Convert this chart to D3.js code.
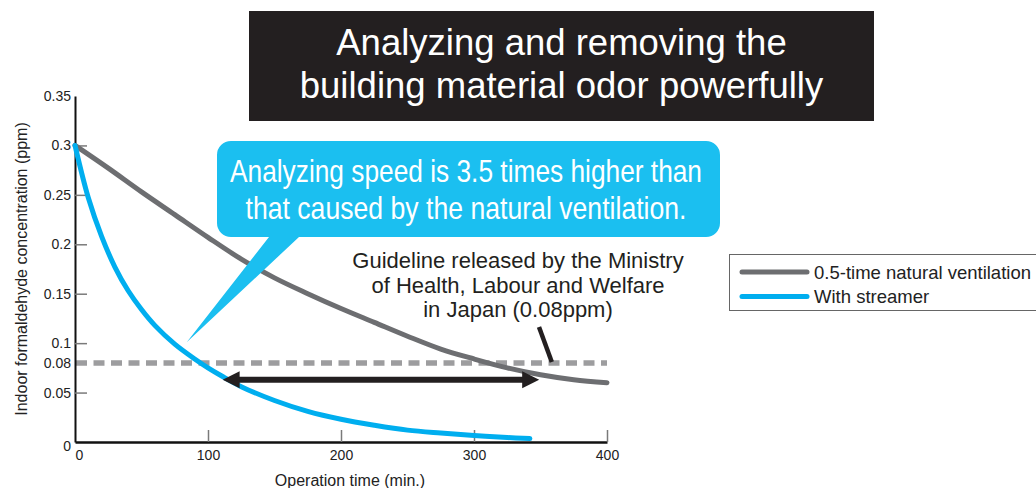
<!DOCTYPE html>
<html>
<head>
<meta charset="utf-8">
<script src="https://cdn.jsdelivr.net/npm/d3@7"></script>
<style>
  body { margin: 0; background: #fff; }
  svg { display: block; font-family: "Liberation Sans", Arial, Helvetica, sans-serif; }
</style>
</head>
<body>
<svg id="chart" width="1036" height="488"></svg>
<script>
// Formaldehyde concentration over operation time (ppm vs. minutes)
const ventTime    = [0, 25, 50, 75, 100, 125, 150, 175, 200, 225, 250, 275, 300, 325, 350, 375, 400];
const ventValues  = [0.300, 0.277, 0.253, 0.230, 0.207, 0.185, 0.166, 0.150, 0.135, 0.121, 0.107, 0.094, 0.084, 0.075, 0.068, 0.063, 0.060];

const streamerTime   = [0, 10, 20, 30, 40, 50, 60, 75, 90, 100, 110, 125, 150, 175, 200, 225, 250, 275, 300, 325, 342];
const streamerValues = [0.300, 0.247, 0.208, 0.177, 0.153, 0.134, 0.118, 0.099, 0.084, 0.075, 0.067, 0.056, 0.042, 0.031, 0.023, 0.017, 0.012, 0.009, 0.0065, 0.0045, 0.0035];

const guidelineValue = 0.08;
const xTickValues = [0, 100, 200, 300, 400];
const yTickValues = [0, 0.05, 0.08, 0.1, 0.15, 0.2, 0.25, 0.3, 0.35];
const yTickLabels = ["0", "0.05", "0.08", "0.1", "0.15", "0.2", "0.25", "0.3", "0.35"];

const seriesNames = ["0.5-time natural ventilation", "With streamer"];
const titleLines = ["Analyzing and removing the", "building material odor powerfully"];
const calloutLines = ["Analyzing speed is 3.5 times higher than", "that caused by the natural ventilation."];
const guidelineLines = ["Guideline released by the Ministry", "of Health, Labour and Welfare", "in Japan (0.08ppm)"];

// Span of the double arrow: where each curve falls to the guideline, drawn a little below it
const arrowSpan = { from: 111, to: 349, level: 0.063 };
const calloutTip = { t: 84, v: 0.101 };
const pointerEnd = { t: 360, v: 0.08 };

const colors = { vent: "#6d6e71", streamer: "#00aeef", bubble: "#1bbff0", dark: "#231f20", dash: "#9d9d9f", tick: "#7a7a7a" };

const svg = d3.select("#chart");
const x = d3.scaleLinear().domain([0, 400]).range([75, 607]);
const y = d3.scaleLinear().domain([0, 0.35]).range([442, 96]);

// Title banner
svg.append("rect").attr("x", 249).attr("y", 11).attr("width", 625).attr("height", 110).attr("fill", colors.dark);
svg.append("g").selectAll("text").data(titleLines).join("text")
  .attr("x", 561.5).attr("y", (d, i) => 55 + i * 43)
  .attr("text-anchor", "middle").attr("fill", "#fff")
  .attr("font-size", 36.5).text(d => d);

// Guideline dashed line
svg.append("line")
  .attr("x1", x(0) + 1).attr("x2", x(400)).attr("y1", y(guidelineValue)).attr("y2", y(guidelineValue))
  .attr("stroke", colors.dash).attr("stroke-width", 5.5).attr("stroke-dasharray", "11,6.5");

// Axes
const yAxis = d3.axisLeft(y).tickValues(yTickValues).tickFormat((d, i) => yTickLabels[i])
  .tickSizeInner(-12).tickSizeOuter(0).tickPadding(4);
const gy = svg.append("g").attr("transform", `translate(${x(0)},0)`).call(yAxis);
gy.select(".domain").attr("stroke", "#111").attr("stroke-width", 2);
gy.selectAll(".tick line").attr("stroke", colors.tick).attr("stroke-width", 1.5)
  .attr("display", d => (d === 0 || d === 0.08 || d === 0.35) ? "none" : null);
gy.selectAll(".tick text").attr("font-size", 14).attr("fill", "#222")
  .attr("x", -4)
  .attr("dy", d => d === 0 ? "0.6em" : "0.32em");

const xAxis = d3.axisBottom(x).tickValues(xTickValues).tickSizeInner(-12).tickSizeOuter(0).tickPadding(4);
const gx = svg.append("g").attr("transform", `translate(0,${y(0)})`).call(xAxis);
gx.select(".domain").attr("stroke", "#111").attr("stroke-width", 2.5);
gx.selectAll(".tick line").attr("stroke", colors.tick).attr("stroke-width", 1.5)
  .attr("display", d => d === 0 ? "none" : null);
gx.selectAll(".tick text").attr("font-size", 14).attr("fill", "#222")
  .attr("y", 8)
  .attr("dx", d => d === 0 ? "4" : null);

svg.append("text").attr("x", 350).attr("y", 486).attr("text-anchor", "middle")
  .attr("font-size", 16).attr("fill", "#222").text("Operation time (min.)");
svg.append("text").attr("transform", "translate(27,269) rotate(-90)").attr("text-anchor", "middle")
  .attr("font-size", 16).attr("fill", "#222").text("Indoor formaldehyde concentration (ppm)");

// Curves
const line = d3.line().x(d => x(d[0])).y(d => y(d[1])).curve(d3.curveCatmullRom.alpha(0.5));
svg.append("path").datum(d3.zip(ventTime, ventValues)).attr("d", line)
  .attr("fill", "none").attr("stroke", colors.vent).attr("stroke-width", 5).attr("stroke-linecap", "round");
svg.append("path").datum(d3.zip(streamerTime, streamerValues)).attr("d", line)
  .attr("fill", "none").attr("stroke", colors.streamer).attr("stroke-width", 5).attr("stroke-linecap", "round");

// Double arrow between the two guideline crossings
const ax1 = x(arrowSpan.from), ax2 = x(arrowSpan.to), ay = y(arrowSpan.level);
const head = 17, half = 8.5;
svg.append("line").attr("x1", ax1 + head - 2).attr("x2", ax2 - head + 2).attr("y1", ay).attr("y2", ay)
  .attr("stroke", colors.dark).attr("stroke-width", 6);
svg.append("path").attr("fill", colors.dark)
  .attr("d", `M${ax1},${ay} L${ax1 + head},${ay - half} L${ax1 + head},${ay + half} Z M${ax2},${ay} L${ax2 - head},${ay - half} L${ax2 - head},${ay + half} Z`);

// Pointer from guideline note to the dashed line
svg.append("line").attr("x1", 539).attr("y1", 327).attr("x2", x(pointerEnd.t) - 2).attr("y2", y(pointerEnd.v) - 1)
  .attr("stroke", colors.dark).attr("stroke-width", 4.5);

svg.append("g").selectAll("text").data(guidelineLines).join("text")
  .attr("x", 518).attr("y", (d, i) => 268 + i * 24.5)
  .attr("text-anchor", "middle").attr("fill", "#231f20")
  .attr("font-size", 22).text(d => d);

// Speech bubble callout
const bx = 217, by = 141, bw = 503, bh = 96, r = 14;
const tipX = x(calloutTip.t), tipY = y(calloutTip.v);
const bubble = d3.path();
bubble.moveTo(bx + r, by);
bubble.lineTo(bx + bw - r, by);
bubble.arcTo(bx + bw, by, bx + bw, by + r, r);
bubble.lineTo(bx + bw, by + bh - r);
bubble.arcTo(bx + bw, by + bh, bx + bw - r, by + bh, r);
bubble.lineTo(299, by + bh);
bubble.lineTo(tipX, tipY);
bubble.lineTo(269, by + bh);
bubble.lineTo(bx + r, by + bh);
bubble.arcTo(bx, by + bh, bx, by + bh - r, r);
bubble.lineTo(bx, by + r);
bubble.arcTo(bx, by, bx + r, by, r);
bubble.closePath();
svg.append("path").attr("d", bubble.toString()).attr("fill", colors.bubble);

const calloutWidths = [472, 441];
svg.append("g").selectAll("text").data(calloutLines).join("text")
  .attr("x", 466).attr("y", (d, i) => 182 + i * 37)
  .attr("text-anchor", "middle").attr("fill", "#fff")
  .style("font-family", '"Liberation Sans Narrow", "Arial Narrow", "Liberation Sans", sans-serif')
  .attr("font-size", 31.5)
  .attr("textLength", (d, i) => calloutWidths[i]).attr("lengthAdjust", "spacingAndGlyphs")
  .text(d => d);

// Legend
svg.append("rect").attr("x", 729.5).attr("y", 254.5).attr("width", 320).attr("height", 56)
  .attr("fill", "#fff").attr("stroke", "#666").attr("stroke-width", 1);
const legend = svg.append("g").selectAll("g").data(seriesNames).join("g")
  .attr("transform", (d, i) => `translate(0,${272 + i * 24.5})`);
legend.append("line").attr("x1", 742).attr("x2", 807).attr("y1", 0).attr("y2", 0)
  .attr("stroke", (d, i) => i === 0 ? colors.vent : colors.streamer).attr("stroke-width", 5).attr("stroke-linecap", "round");
legend.append("text").attr("x", 814).attr("y", 6.5).attr("font-size", 18.5).attr("fill", "#222").text(d => d);
</script>
</body>
</html>
